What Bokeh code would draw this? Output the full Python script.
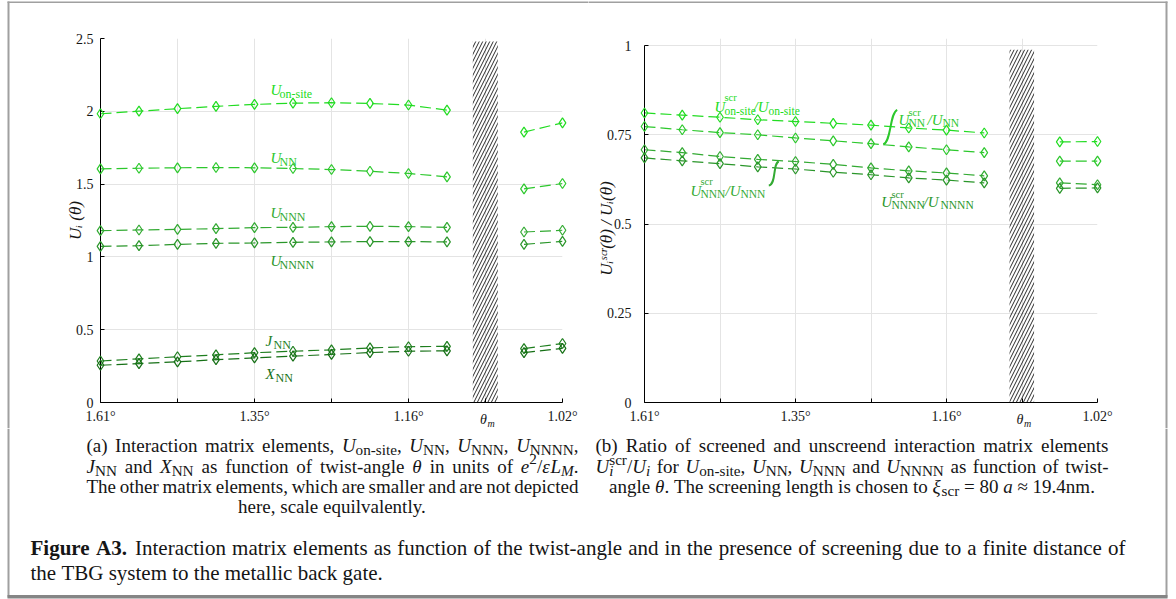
import re
import math
from bokeh.plotting import figure
from bokeh.layouts import column, row
from bokeh.models import ColumnDataSource, FixedTicker, Range1d
from bokeh.core.properties import value, field
from bokeh.embed import file_html
from bokeh.resources import INLINE

NAN = float("nan")

# ---------------- data ----------------
# twist-angle grid positions; position 10 is the magic angle (no data)
positions = list(range(13))
angle_ticks = [0, 2, 4, 6, 8, 10, 12]
angle_tick_labels = ["1.61°", "", "1.35°", "", "1.16°", "", "1.02°"]   # θm drawn separately (italic)

# panel (a): interaction matrix elements in units of e^2/(eps L_M)
u_onsite = [1.983, 2.001, 2.018, 2.034, 2.047, 2.056, 2.059, 2.054, 2.043, 2.008, NAN, 1.857, 1.921]
u_nn     = [1.605, 1.609, 1.612, 1.614, 1.612, 1.607, 1.600, 1.588, 1.573, 1.550, NAN, 1.467, 1.504]
u_nnn    = [1.180, 1.185, 1.189, 1.194, 1.201, 1.203, 1.208, 1.210, 1.208, 1.203, NAN, 1.171, 1.183]
u_nnnn   = [1.072, 1.077, 1.086, 1.093, 1.096, 1.100, 1.103, 1.105, 1.105, 1.103, NAN, 1.086, 1.107]
j_nn     = [0.285, 0.300, 0.314, 0.327, 0.342, 0.352, 0.362, 0.375, 0.383, 0.386, NAN, 0.370, 0.405]
x_nn     = [0.256, 0.267, 0.279, 0.294, 0.307, 0.318, 0.330, 0.343, 0.352, 0.355, NAN, 0.343, 0.372]
a_yticks = [0, 0.5, 1, 1.5, 2, 2.5]
a_ylabels = ["0", "0.5", "1", "1.5", "2", "2.5"]

# panel (b): screened / unscreened ratios
r_onsite = [0.811, 0.805, 0.799, 0.792, 0.787, 0.782, 0.777, 0.769, 0.763, 0.755, NAN, 0.730, 0.731]
r_nn     = [0.773, 0.764, 0.756, 0.750, 0.741, 0.733, 0.725, 0.716, 0.708, 0.700, NAN, 0.676, 0.676]
r_nnn    = [0.708, 0.700, 0.689, 0.681, 0.675, 0.667, 0.657, 0.649, 0.643, 0.635, NAN, 0.615, 0.610]
r_nnnn   = [0.685, 0.677, 0.669, 0.660, 0.654, 0.645, 0.638, 0.629, 0.623, 0.615, NAN, 0.600, 0.601]
b_yticks = [0, 0.25, 0.5, 0.75, 1]
b_ylabels = ["0", "0.25", "0.5", "0.75", "1"]

# ---------------- styles ----------------
C_ONSITE = "#22dc22"
C_NN = "#2cc82c"
C_NNN = "#33aa33"
C_NNNN = "#2a962a"
C_J = "#1e7e1e"
C_X = "#167016"
TXT = "#151515"
SERIF = "Liberation Serif"
BORDER = "#a0a0a0"
SPLIT = 588

# ---------------- text width helper (Times metrics) ----------------
REG = {' ': 250, '(': 333, ')': 333, ',': 250, '-': 333, '.': 250, '/': 278, ':': 278, '=': 564,
       '≈': 549, '°': 400, 'θ': 500, 'ε': 440, 'ξ': 470,
       'A': 722, 'B': 667, 'C': 667, 'D': 722, 'E': 611, 'F': 556, 'G': 722, 'H': 722, 'I': 333,
       'J': 389, 'K': 722, 'L': 611, 'M': 889, 'N': 722, 'O': 722, 'P': 556, 'Q': 722, 'R': 667,
       'S': 556, 'T': 611, 'U': 722, 'V': 722, 'W': 944, 'X': 722, 'Y': 722, 'Z': 611,
       'a': 444, 'b': 500, 'c': 444, 'd': 500, 'e': 444, 'f': 333, 'g': 500, 'h': 500, 'i': 278,
       'j': 278, 'k': 500, 'l': 278, 'm': 778, 'n': 500, 'o': 500, 'p': 500, 'q': 500, 'r': 333,
       's': 389, 't': 278, 'u': 500, 'v': 500, 'w': 722, 'x': 500, 'y': 500, 'z': 444}
for d in "0123456789":
    REG[d] = 500
ITA = {'U': 722, 'J': 444, 'X': 611, 'L': 556, 'M': 833, 'e': 444, 'a': 500, 'i': 278, 'θ': 500,
       'ε': 440, 'ξ': 470}
BOLD = {'F': 611, 'i': 278, 'g': 500, 'u': 556, 'r': 444, 'e': 444, 'A': 722, '3': 500, '.': 250}
SMALL = ('sub', 'isub', 'sup')
SUBF = 0.8


def cw(ch, kind):
    if kind == 'b':
        return BOLD.get(ch, REG.get(ch, 500))
    if kind in ('i', 'isub'):
        return ITA.get(ch, REG.get(ch, 500))
    return REG.get(ch, 500)


def token_width(text, kind, size):
    s = size * (SUBF if kind in SMALL else 1.0)
    return sum(cw(c, kind) for c in text) * s / 1000.0


def style_of(kind):
    return {'r': 'normal', 'sub': 'normal', 'sup': 'normal', 'i': 'italic', 'isub': 'italic', 'b': 'bold'}[kind]


def new_store():
    return dict(x=[], y=[], text=[], size=[], style=[], color=[])


def emit(store, x, y, text, kind, size, color):
    s = size * (SUBF if kind in SMALL else 1.0)
    dy = 0.22 * size if kind in ('sub', 'isub') else (-0.38 * size if kind == 'sup' else 0.0)
    store['x'].append(x)
    store['y'].append(y + dy)
    store['text'].append(text)
    store['size'].append("%.1fpx" % s)
    store['style'].append(style_of(kind))
    store['color'].append(color)


def layout_line(store, segs, x0, x1, y, size, mode, color=TXT):
    tokens = []
    for text, kind in segs:
        if kind in ('r', 'b', 'i'):
            for part in re.split(r'( )', text):
                if part:
                    tokens.append((part, kind))
        else:
            tokens.append((text, kind))

    def tw(t, k):
        if k == 'stack':
            return max(token_width(t[0], 'isub', size), token_width(t[1], 'sup', size))
        if k == 'gap':
            return t
        return token_width(t, k, size)

    widths = [tw(t, k) for t, k in tokens]
    nat = sum(widths)
    nsp = sum(1 for t, k in tokens if t == ' ')
    extra = 0.0
    x = x0
    if mode == 'justify' and nsp:
        extra = (x1 - x0 - nat) / nsp
    elif mode == 'center':
        x = x0 + (x1 - x0 - nat) / 2.0
    for (t, k), w in zip(tokens, widths):
        if k == 'stack':
            emit(store, x, y, t[0], 'isub', size, color)
            emit(store, x, y, t[1], 'sup', size, color)
        elif k == 'gap' or t == ' ':
            pass
        else:
            emit(store, x, y, t, k, size, color)
        x += w + (extra if t == ' ' else 0.0)


def draw_store(p, store, level="glyph"):
    src = ColumnDataSource(store)
    p.text(x="x", y="y", text="text", source=src, text_font=value(SERIF),
           text_font_size=field("size"), text_font_style=field("style"),
           text_color=field("color"), text_baseline="alphabetic", text_align="left", level=level)


# ---------------- panels ----------------
def panel(width, ymax_range, ybound, yticks, ylabels, bl, br, ystandoff):
    p = figure(width=width, height=428, x_range=Range1d(0, 12), y_range=Range1d(0, ymax_range),
               output_backend="svg", toolbar_location=None, title=None, tools="",
               min_border_left=bl, min_border_right=br, min_border_top=38, min_border_bottom=26)
    p.outline_line_color = None
    p.background_fill_color = "white"
    p.border_fill_color = "white"
    p.xaxis.ticker = FixedTicker(ticks=angle_ticks)
    p.xaxis.major_label_overrides = dict(zip(angle_ticks, angle_tick_labels))
    p.yaxis.ticker = FixedTicker(ticks=yticks)
    p.yaxis.major_label_overrides = dict(zip(yticks, ylabels))
    p.yaxis.bounds = (0, ybound)
    for ax in (p.xaxis[0], p.yaxis[0]):
        ax.axis_line_color = "black"
        ax.axis_line_width = 1
        ax.major_tick_line_color = "black"
        ax.major_tick_in = 4
        ax.major_tick_out = 0
        ax.minor_tick_line_color = None
        ax.major_label_text_font = SERIF
        ax.major_label_text_font_size = "14px"
        ax.major_label_text_color = TXT
    p.xaxis.major_label_standoff = 6
    p.yaxis.major_label_standoff = ystandoff
    p.xgrid.ticker = FixedTicker(ticks=angle_ticks)
    p.ygrid.ticker = FixedTicker(ticks=yticks)
    p.grid.grid_line_color = "#e4e4e4"
    p.grid.grid_line_width = 1
    return p


def add_series(p, ys, color):
    src = ColumnDataSource(dict(x=positions, y=ys))
    p.line("x", "y", source=src, line_color=color, line_width=1.2, line_dash="11 5")
    p.scatter("x", "y", source=src, marker="diamond", size=10, line_color=color,
              fill_color=None, line_width=1.2, level="overlay")


def add_hatch(p, top):
    p.quad(left=[9.67], right=[10.32], bottom=[0], top=[top], fill_color=None, line_color=None,
           hatch_pattern="/", hatch_color="#111111", hatch_weight=0.9, hatch_scale=7)


def deco_quad(p, fx, fy, l, r, t, b, color):
    p.quad(left=[fx(l)], right=[fx(r)], top=[fy(t)], bottom=[fy(b)], fill_color=color,
           line_color=None, level="overlay")


def axis_title(p, x, y, text):
    p.text(x=[x], y=[y], text=[text], angle=math.pi / 2, text_font=value(SERIF),
           text_font_size="17px", text_font_style="italic", text_color=TXT,
           text_align="center", text_baseline="alphabetic", level="overlay")


def theta_m_tick(p, fx, fy):
    # italic theta with subscript m under the magic-angle tick
    p.text(x=[fx(479.5), fx(487)], y=[fy(419), fy(422.5)], text=["θ", "m"],
           text_font=value(SERIF), text_font_size=["14px", "10px"], text_font_style="italic",
           text_color=TXT, text_align="left", text_baseline="alphabetic", level="overlay")


# ---- left panel (a): frame page x 100..562, y 38..402
pa = panel(SPLIT, 2.5, 2.5, a_yticks, a_ylabels, 100, SPLIT - 562, 7)


def ax_(px):
    return (px - 100.0) / 38.5


def ay_(py):
    return (402.0 - py) / 145.6


add_hatch(pa, 2.48)
for ys, c in [(u_onsite, C_ONSITE), (u_nn, C_NN), (u_nnn, C_NNN), (u_nnnn, C_NNNN),
              (j_nn, C_J), (x_nn, C_X)]:
    add_series(pa, ys, c)

store_a = new_store()
for main, px, py, sub, dx, col in [("U", 270, 89, "on-site", 9, C_ONSITE),
                                    ("U", 270, 157, "NN", 9, C_NN),
                                    ("U", 270, 212, "NNN", 9, C_NNN),
                                    ("U", 270, 260, "NNNN", 9, C_NNNN),
                                    ("J", 265, 340, "NN", 8, C_J),
                                    ("X", 265, 373, "NN", 10, C_X)]:
    store_a['x'] += [ax_(px), ax_(px + dx)]
    store_a['y'] += [ay_(py), ay_(py + 4)]
    store_a['text'] += [main, sub]
    store_a['size'] += ["15px", "12px"]
    store_a['style'] += ["italic", "normal"]
    store_a['color'] += [col, col]
draw_store(pa, store_a)
axis_title(pa, ax_(75), ay_(220), "Uᵢ (θ)")
theta_m_tick(pa, ax_, ay_)

deco_quad(pa, ax_, ay_, 7, SPLIT, 1, 2.5, BORDER)
deco_quad(pa, ax_, ay_, 7, 9, 1, 428, BORDER)

# ---- right panel (b): frame page x 644..1097, 1.0 at page y 45
pb = panel(1176 - SPLIT, 364.0 / 357.0, 1.0, b_yticks, b_ylabels, 644 - SPLIT, 79, 13)


def bx_(px):
    return (px - 644.0) / 37.75


def by_(py):
    return (402.0 - py) / 357.0


add_hatch(pb, 0.988)
for ys, c in [(r_onsite, C_ONSITE), (r_nn, C_NN), (r_nnn, C_NNN), (r_nnnn, C_NNNN)]:
    add_series(pb, ys, c)

store_b = new_store()
right_labels = [
    (C_ONSITE, [("U", 'i', 714, 106.7), ("scr", 's', 724, 97), ("on-site", 'n', 724, 110),
                ("/U", 'i', 753, 106.7), ("on-site", 'n', 768, 110)]),
    (C_NN, [("U", 'i', 898, 119.3), ("scr", 's', 908, 111.5), ("NN", 'n', 908, 122.5),
            ("/U", 'i', 927, 119.3), ("NN", 'n', 942, 122.5)]),
    (C_NNN, [("U", 'i', 690, 190), ("scr", 's', 700, 181), ("NNN", 'n', 700, 193),
             ("/U", 'i', 725, 190), ("NNN", 'n', 740, 193)]),
    (C_NNNN, [("U", 'i', 880.7, 201.7), ("scr", 's', 891, 194), ("NNNN", 'n', 891, 204.5),
              ("/U", 'i', 923, 201.7), ("NNNN", 'n', 940, 204.5)]),
]
for col, parts in right_labels:
    for t, k, px, py in parts:
        store_b['x'].append(bx_(px))
        store_b['y'].append(by_(py))
        store_b['text'].append(t)
        store_b['size'].append({'i': "15px", 's': "10.5px", 'n': "11.5px"}[k])
        store_b['style'].append("italic" if k == 'i' else "normal")
        store_b['color'].append(col)
draw_store(pb, store_b)
axis_title(pb, bx_(606), by_(228), "Uᵢˢᶜʳ(θ) / Uᵢ(θ)")
theta_m_tick(pb, lambda px: bx_(px - 485 + 1021.5), by_)

for (p0, c0, c1, p1), col in [(((896.7, 109.3), (889, 113), (891, 141), (882.7, 144)), C_NN),
                              (((768.3, 185), (776, 184), (772, 163), (778.3, 161)), C_NNN)]:
    pb.bezier(x0=[bx_(p0[0])], y0=[by_(p0[1])], x1=[bx_(p1[0])], y1=[by_(p1[1])],
              cx0=[bx_(c0[0])], cy0=[by_(c0[1])], cx1=[bx_(c1[0])], cy1=[by_(c1[1])],
              line_color=col, line_width=2)

deco_quad(pb, bx_, by_, SPLIT, 1167, 1, 2.5, BORDER)
deco_quad(pb, bx_, by_, 1165, 1167, 1, 428, BORDER)

# ---------------- captions (page pixel coordinates) ----------------
cap = figure(width=1176, height=171, x_range=Range1d(0, 1176), y_range=Range1d(599, 428),
             output_backend="svg", toolbar_location=None, title=None, tools="", min_border=0,
             x_axis_location=None, y_axis_location=None)
cap.grid.visible = False
cap.outline_line_color = None
cap.background_fill_color = "white"
cap.border_fill_color = "white"
cap.quad(left=[7, 1165], right=[9, 1167], top=[428, 428], bottom=[597, 597], fill_color=BORDER, line_color=None)
cap.quad(left=[7], right=[1167], top=[594.5], bottom=[598], fill_color="#858585", line_color=None)

store_c = new_store()
CS = 19
layout_line(store_c, [("(a) Interaction matrix elements, ", 'r'), ("U", 'i'), ("on-site", 'sub'),
                      (", ", 'r'), ("U", 'i'), ("NN", 'sub'), (", ", 'r'), ("U", 'i'), ("NNN", 'sub'),
                      (", ", 'r'), ("U", 'i'), ("NNNN", 'sub'), (",", 'r')],
            86, 578, 445, CS, 'justify')
layout_line(store_c, [("J", 'i'), ("NN", 'sub'), (" and ", 'r'), ("X", 'i'), ("NN", 'sub'),
                      (" as function of twist-angle ", 'r'), ("θ", 'i'), (" in units of ", 'r'),
                      ("e", 'i'), ("2", 'sup'), ("/", 'r'), ("ε", 'i'), ("L", 'i'), ("M", 'isub'), (".", 'r')],
            86, 578, 466, CS, 'justify')
layout_line(store_c, [("The other matrix elements, which are smaller and are not depicted", 'r')],
            86, 578, 486, CS, 'justify')
layout_line(store_c, [("here, scale equilvalently.", 'r')], 86, 578, 506, CS, 'center')

layout_line(store_c, [("(b) Ratio of screened and unscreend interaction matrix elements", 'r')],
            595, 1108, 445, CS, 'justify')
layout_line(store_c, [("U", 'i'), (("i", "scr"), 'stack'), ("/", 'r'), ("U", 'i'), ("i", 'isub'),
                      (" for ", 'r'), ("U", 'i'), ("on-site", 'sub'), (", ", 'r'), ("U", 'i'), ("NN", 'sub'),
                      (", ", 'r'), ("U", 'i'), ("NNN", 'sub'), (" and ", 'r'), ("U", 'i'), ("NNNN", 'sub'),
                      (" as function of twist-", 'r')],
            595, 1108, 466, CS, 'justify')
layout_line(store_c, [("angle ", 'r'), ("θ", 'i'), (". The screening length is chosen to ", 'r'),
                      ("ξ", 'i'), ("scr", 'sub'), (" = 80 ", 'r'), ("a", 'i'), (" ≈ 19.4nm.", 'r')],
            595, 1108, 486, CS, 'center')

FS = 21
layout_line(store_c, [("Figure A3.", 'b'), (8.0, 'gap'),
                      ("Interaction matrix elements as function of the twist-angle and in the presence "
                       "of screening due to a finite distance of", 'r')],
            30, 1125, 547, FS, 'justify')
layout_line(store_c, [("the TBG system to the metallic back gate.", 'r')], 30, 1125, 572, FS, 'left')
draw_store(cap, store_c)

layout = column(row(pa, pb), cap)
open("out.html", "w").write(file_html(layout, INLINE))
